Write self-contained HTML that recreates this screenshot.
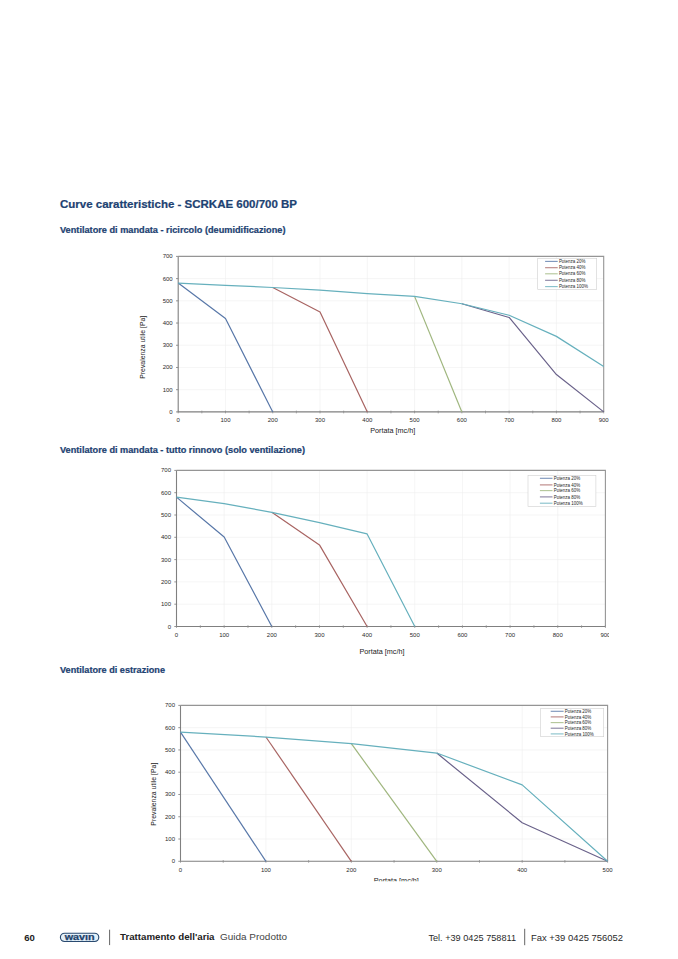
<!DOCTYPE html>
<html><head><meta charset="utf-8"><style>
html,body{margin:0;padding:0;background:#fff;}
svg{display:block;font-family:"Liberation Sans", sans-serif;}
</style></head><body>
<svg width="678" height="959" viewBox="0 0 678 959">
<defs><clipPath id="c2"><rect x="0" y="0" width="609" height="959"/></clipPath><clipPath id="c3"><rect x="0" y="0" width="678" height="881.2"/></clipPath></defs>
<rect width="678" height="959" fill="#fff"/>
<text x="60" y="208.3" font-size="11" font-weight="bold" fill="#1d4272" stroke="#1d4272" stroke-width="0.22" textLength="237" lengthAdjust="spacingAndGlyphs">Curve caratteristiche - SCRKAE 600/700 BP</text>
<text x="60" y="233" font-size="9" font-weight="bold" fill="#1d4272" stroke="#1d4272" stroke-width="0.22" textLength="225.5" lengthAdjust="spacingAndGlyphs">Ventilatore di mandata - ricircolo (deumidificazione)</text>
<text x="60" y="452.7" font-size="9" font-weight="bold" fill="#1d4272" stroke="#1d4272" stroke-width="0.22" textLength="245" lengthAdjust="spacingAndGlyphs">Ventilatore di mandata - tutto rinnovo (solo ventilazione)</text>
<text x="60" y="672.5" font-size="9" font-weight="bold" fill="#1d4272" stroke="#1d4272" stroke-width="0.22" textLength="105" lengthAdjust="spacingAndGlyphs">Ventilatore di estrazione</text>
<line x1="178.20" y1="389.69" x2="603.70" y2="389.69" stroke="#eeeeee" stroke-width="0.6"/>
<line x1="178.20" y1="367.47" x2="603.70" y2="367.47" stroke="#eeeeee" stroke-width="0.6"/>
<line x1="178.20" y1="345.26" x2="603.70" y2="345.26" stroke="#eeeeee" stroke-width="0.6"/>
<line x1="178.20" y1="323.04" x2="603.70" y2="323.04" stroke="#eeeeee" stroke-width="0.6"/>
<line x1="178.20" y1="300.83" x2="603.70" y2="300.83" stroke="#eeeeee" stroke-width="0.6"/>
<line x1="178.20" y1="278.61" x2="603.70" y2="278.61" stroke="#eeeeee" stroke-width="0.6"/>
<line x1="225.48" y1="256.40" x2="225.48" y2="411.90" stroke="#eeeeee" stroke-width="0.6"/>
<line x1="272.76" y1="256.40" x2="272.76" y2="411.90" stroke="#eeeeee" stroke-width="0.6"/>
<line x1="320.03" y1="256.40" x2="320.03" y2="411.90" stroke="#eeeeee" stroke-width="0.6"/>
<line x1="367.31" y1="256.40" x2="367.31" y2="411.90" stroke="#eeeeee" stroke-width="0.6"/>
<line x1="414.59" y1="256.40" x2="414.59" y2="411.90" stroke="#eeeeee" stroke-width="0.6"/>
<line x1="461.87" y1="256.40" x2="461.87" y2="411.90" stroke="#eeeeee" stroke-width="0.6"/>
<line x1="509.14" y1="256.40" x2="509.14" y2="411.90" stroke="#eeeeee" stroke-width="0.6"/>
<line x1="556.42" y1="256.40" x2="556.42" y2="411.90" stroke="#eeeeee" stroke-width="0.6"/>
<path d="M178.20 256.40 H603.70 V411.90" fill="none" stroke="#959595" stroke-width="1.1"/>
<path d="M178.20 256.40 V411.90 H603.70" fill="none" stroke="#808080" stroke-width="1.1"/>
<line x1="176.00" y1="411.90" x2="178.20" y2="411.90" stroke="#7a7a7a" stroke-width="0.8"/>
<line x1="176.00" y1="389.69" x2="178.20" y2="389.69" stroke="#7a7a7a" stroke-width="0.8"/>
<line x1="176.00" y1="367.47" x2="178.20" y2="367.47" stroke="#7a7a7a" stroke-width="0.8"/>
<line x1="176.00" y1="345.26" x2="178.20" y2="345.26" stroke="#7a7a7a" stroke-width="0.8"/>
<line x1="176.00" y1="323.04" x2="178.20" y2="323.04" stroke="#7a7a7a" stroke-width="0.8"/>
<line x1="176.00" y1="300.83" x2="178.20" y2="300.83" stroke="#7a7a7a" stroke-width="0.8"/>
<line x1="176.00" y1="278.61" x2="178.20" y2="278.61" stroke="#7a7a7a" stroke-width="0.8"/>
<line x1="176.00" y1="256.40" x2="178.20" y2="256.40" stroke="#7a7a7a" stroke-width="0.8"/>
<line x1="178.20" y1="410.60" x2="178.20" y2="413.40" stroke="#8a8a8a" stroke-width="0.7"/>
<line x1="201.84" y1="410.60" x2="201.84" y2="413.40" stroke="#8a8a8a" stroke-width="0.7"/>
<line x1="225.48" y1="410.60" x2="225.48" y2="413.40" stroke="#8a8a8a" stroke-width="0.7"/>
<line x1="249.12" y1="410.60" x2="249.12" y2="413.40" stroke="#8a8a8a" stroke-width="0.7"/>
<line x1="272.76" y1="410.60" x2="272.76" y2="413.40" stroke="#8a8a8a" stroke-width="0.7"/>
<line x1="296.39" y1="410.60" x2="296.39" y2="413.40" stroke="#8a8a8a" stroke-width="0.7"/>
<line x1="320.03" y1="410.60" x2="320.03" y2="413.40" stroke="#8a8a8a" stroke-width="0.7"/>
<line x1="343.67" y1="410.60" x2="343.67" y2="413.40" stroke="#8a8a8a" stroke-width="0.7"/>
<line x1="367.31" y1="410.60" x2="367.31" y2="413.40" stroke="#8a8a8a" stroke-width="0.7"/>
<line x1="390.95" y1="410.60" x2="390.95" y2="413.40" stroke="#8a8a8a" stroke-width="0.7"/>
<line x1="414.59" y1="410.60" x2="414.59" y2="413.40" stroke="#8a8a8a" stroke-width="0.7"/>
<line x1="438.23" y1="410.60" x2="438.23" y2="413.40" stroke="#8a8a8a" stroke-width="0.7"/>
<line x1="461.87" y1="410.60" x2="461.87" y2="413.40" stroke="#8a8a8a" stroke-width="0.7"/>
<line x1="485.51" y1="410.60" x2="485.51" y2="413.40" stroke="#8a8a8a" stroke-width="0.7"/>
<line x1="509.14" y1="410.60" x2="509.14" y2="413.40" stroke="#8a8a8a" stroke-width="0.7"/>
<line x1="532.78" y1="410.60" x2="532.78" y2="413.40" stroke="#8a8a8a" stroke-width="0.7"/>
<line x1="556.42" y1="410.60" x2="556.42" y2="413.40" stroke="#8a8a8a" stroke-width="0.7"/>
<line x1="580.06" y1="410.60" x2="580.06" y2="413.40" stroke="#8a8a8a" stroke-width="0.7"/>
<line x1="603.70" y1="410.60" x2="603.70" y2="413.40" stroke="#8a8a8a" stroke-width="0.7"/>
<polyline points="178.20,283.06 225.48,318.60 272.76,411.90" fill="none" stroke="#5877a8" stroke-width="1.2" stroke-linejoin="round"/>
<polyline points="272.76,287.50 320.03,311.94 367.31,411.90" fill="none" stroke="#a86462" stroke-width="1.2" stroke-linejoin="round"/>
<polyline points="414.59,296.39 461.87,411.90" fill="none" stroke="#9fb67e" stroke-width="1.2" stroke-linejoin="round"/>
<polyline points="461.87,303.72 509.14,317.49 556.42,374.58 603.70,411.90" fill="none" stroke="#6a628a" stroke-width="1.2" stroke-linejoin="round"/>
<polyline points="178.20,283.06 225.48,285.28 272.76,287.50 320.03,290.17 367.31,293.72 414.59,296.39 461.87,303.72 509.14,315.27 556.42,336.37 603.70,366.58" fill="none" stroke="#66b0bd" stroke-width="1.2" stroke-linejoin="round"/>
<text x="172.70" y="413.90" text-anchor="end" font-size="6" fill="#2a2a2a">0</text>
<text x="172.70" y="391.69" text-anchor="end" font-size="6" fill="#2a2a2a">100</text>
<text x="172.70" y="369.47" text-anchor="end" font-size="6" fill="#2a2a2a">200</text>
<text x="172.70" y="347.26" text-anchor="end" font-size="6" fill="#2a2a2a">300</text>
<text x="172.70" y="325.04" text-anchor="end" font-size="6" fill="#2a2a2a">400</text>
<text x="172.70" y="302.83" text-anchor="end" font-size="6" fill="#2a2a2a">500</text>
<text x="172.70" y="280.61" text-anchor="end" font-size="6" fill="#2a2a2a">600</text>
<text x="172.70" y="258.40" text-anchor="end" font-size="6" fill="#2a2a2a">700</text>
<text x="178.20" y="422.00" text-anchor="middle" font-size="6" fill="#2a2a2a">0</text>
<text x="225.48" y="422.00" text-anchor="middle" font-size="6" fill="#2a2a2a">100</text>
<text x="272.76" y="422.00" text-anchor="middle" font-size="6" fill="#2a2a2a">200</text>
<text x="320.03" y="422.00" text-anchor="middle" font-size="6" fill="#2a2a2a">300</text>
<text x="367.31" y="422.00" text-anchor="middle" font-size="6" fill="#2a2a2a">400</text>
<text x="414.59" y="422.00" text-anchor="middle" font-size="6" fill="#2a2a2a">500</text>
<text x="461.87" y="422.00" text-anchor="middle" font-size="6" fill="#2a2a2a">600</text>
<text x="509.14" y="422.00" text-anchor="middle" font-size="6" fill="#2a2a2a">700</text>
<text x="556.42" y="422.00" text-anchor="middle" font-size="6" fill="#2a2a2a">800</text>
<text x="603.70" y="422.00" text-anchor="middle" font-size="6" fill="#2a2a2a">900</text>
<text x="392.70" y="432.60" text-anchor="middle" font-size="7.2" fill="#222" textLength="45" lengthAdjust="spacingAndGlyphs">Portata [mc/h]</text>
<text transform="translate(144.70,347.30) rotate(-90)" text-anchor="middle" font-size="7.2" fill="#222" textLength="63" lengthAdjust="spacingAndGlyphs">Prevalenza utile [Pa]</text>
<rect x="537.70" y="258.50" width="59.00" height="31.00" fill="#fff" stroke="#cfcfcf" stroke-width="0.6"/>
<line x1="545.10" y1="261.40" x2="557.70" y2="261.40" stroke="#5877a8" stroke-width="1.1" stroke-opacity="0.8"/>
<text x="558.90" y="263.00" font-size="4.5" fill="#1e1e1e" textLength="26.5" lengthAdjust="spacingAndGlyphs">Potenza 20%</text>
<line x1="545.10" y1="267.70" x2="557.70" y2="267.70" stroke="#a86462" stroke-width="1.1" stroke-opacity="0.8"/>
<text x="558.90" y="269.30" font-size="4.5" fill="#1e1e1e" textLength="26.5" lengthAdjust="spacingAndGlyphs">Potenza 40%</text>
<line x1="545.10" y1="273.80" x2="557.70" y2="273.80" stroke="#9fb67e" stroke-width="1.1" stroke-opacity="0.8"/>
<text x="558.90" y="275.40" font-size="4.5" fill="#1e1e1e" textLength="26.5" lengthAdjust="spacingAndGlyphs">Potenza 60%</text>
<line x1="545.10" y1="280.30" x2="557.70" y2="280.30" stroke="#6a628a" stroke-width="1.1" stroke-opacity="0.8"/>
<text x="558.90" y="281.90" font-size="4.5" fill="#1e1e1e" textLength="26.5" lengthAdjust="spacingAndGlyphs">Potenza 80%</text>
<line x1="545.10" y1="286.60" x2="557.70" y2="286.60" stroke="#66b0bd" stroke-width="1.1" stroke-opacity="0.8"/>
<text x="558.90" y="288.20" font-size="4.5" fill="#1e1e1e" textLength="29" lengthAdjust="spacingAndGlyphs">Potenza 100%</text>
<g clip-path="url(#c2)">
<line x1="176.50" y1="604.20" x2="605.40" y2="604.20" stroke="#eeeeee" stroke-width="0.6"/>
<line x1="176.50" y1="581.90" x2="605.40" y2="581.90" stroke="#eeeeee" stroke-width="0.6"/>
<line x1="176.50" y1="559.60" x2="605.40" y2="559.60" stroke="#eeeeee" stroke-width="0.6"/>
<line x1="176.50" y1="537.30" x2="605.40" y2="537.30" stroke="#eeeeee" stroke-width="0.6"/>
<line x1="176.50" y1="515.00" x2="605.40" y2="515.00" stroke="#eeeeee" stroke-width="0.6"/>
<line x1="176.50" y1="492.70" x2="605.40" y2="492.70" stroke="#eeeeee" stroke-width="0.6"/>
<line x1="224.16" y1="470.40" x2="224.16" y2="626.50" stroke="#eeeeee" stroke-width="0.6"/>
<line x1="271.81" y1="470.40" x2="271.81" y2="626.50" stroke="#eeeeee" stroke-width="0.6"/>
<line x1="319.47" y1="470.40" x2="319.47" y2="626.50" stroke="#eeeeee" stroke-width="0.6"/>
<line x1="367.12" y1="470.40" x2="367.12" y2="626.50" stroke="#eeeeee" stroke-width="0.6"/>
<line x1="414.78" y1="470.40" x2="414.78" y2="626.50" stroke="#eeeeee" stroke-width="0.6"/>
<line x1="462.43" y1="470.40" x2="462.43" y2="626.50" stroke="#eeeeee" stroke-width="0.6"/>
<line x1="510.09" y1="470.40" x2="510.09" y2="626.50" stroke="#eeeeee" stroke-width="0.6"/>
<line x1="557.74" y1="470.40" x2="557.74" y2="626.50" stroke="#eeeeee" stroke-width="0.6"/>
<path d="M176.50 470.40 H605.40 V626.50" fill="none" stroke="#959595" stroke-width="1.1"/>
<path d="M176.50 470.40 V626.50 H605.40" fill="none" stroke="#808080" stroke-width="1.1"/>
<line x1="174.30" y1="626.50" x2="176.50" y2="626.50" stroke="#7a7a7a" stroke-width="0.8"/>
<line x1="174.30" y1="604.20" x2="176.50" y2="604.20" stroke="#7a7a7a" stroke-width="0.8"/>
<line x1="174.30" y1="581.90" x2="176.50" y2="581.90" stroke="#7a7a7a" stroke-width="0.8"/>
<line x1="174.30" y1="559.60" x2="176.50" y2="559.60" stroke="#7a7a7a" stroke-width="0.8"/>
<line x1="174.30" y1="537.30" x2="176.50" y2="537.30" stroke="#7a7a7a" stroke-width="0.8"/>
<line x1="174.30" y1="515.00" x2="176.50" y2="515.00" stroke="#7a7a7a" stroke-width="0.8"/>
<line x1="174.30" y1="492.70" x2="176.50" y2="492.70" stroke="#7a7a7a" stroke-width="0.8"/>
<line x1="174.30" y1="470.40" x2="176.50" y2="470.40" stroke="#7a7a7a" stroke-width="0.8"/>
<line x1="176.50" y1="625.20" x2="176.50" y2="628.00" stroke="#8a8a8a" stroke-width="0.7"/>
<line x1="200.33" y1="625.20" x2="200.33" y2="628.00" stroke="#8a8a8a" stroke-width="0.7"/>
<line x1="224.16" y1="625.20" x2="224.16" y2="628.00" stroke="#8a8a8a" stroke-width="0.7"/>
<line x1="247.98" y1="625.20" x2="247.98" y2="628.00" stroke="#8a8a8a" stroke-width="0.7"/>
<line x1="271.81" y1="625.20" x2="271.81" y2="628.00" stroke="#8a8a8a" stroke-width="0.7"/>
<line x1="295.64" y1="625.20" x2="295.64" y2="628.00" stroke="#8a8a8a" stroke-width="0.7"/>
<line x1="319.47" y1="625.20" x2="319.47" y2="628.00" stroke="#8a8a8a" stroke-width="0.7"/>
<line x1="343.29" y1="625.20" x2="343.29" y2="628.00" stroke="#8a8a8a" stroke-width="0.7"/>
<line x1="367.12" y1="625.20" x2="367.12" y2="628.00" stroke="#8a8a8a" stroke-width="0.7"/>
<line x1="390.95" y1="625.20" x2="390.95" y2="628.00" stroke="#8a8a8a" stroke-width="0.7"/>
<line x1="414.78" y1="625.20" x2="414.78" y2="628.00" stroke="#8a8a8a" stroke-width="0.7"/>
<line x1="438.61" y1="625.20" x2="438.61" y2="628.00" stroke="#8a8a8a" stroke-width="0.7"/>
<line x1="462.43" y1="625.20" x2="462.43" y2="628.00" stroke="#8a8a8a" stroke-width="0.7"/>
<line x1="486.26" y1="625.20" x2="486.26" y2="628.00" stroke="#8a8a8a" stroke-width="0.7"/>
<line x1="510.09" y1="625.20" x2="510.09" y2="628.00" stroke="#8a8a8a" stroke-width="0.7"/>
<line x1="533.92" y1="625.20" x2="533.92" y2="628.00" stroke="#8a8a8a" stroke-width="0.7"/>
<line x1="557.74" y1="625.20" x2="557.74" y2="628.00" stroke="#8a8a8a" stroke-width="0.7"/>
<line x1="581.57" y1="625.20" x2="581.57" y2="628.00" stroke="#8a8a8a" stroke-width="0.7"/>
<line x1="605.40" y1="625.20" x2="605.40" y2="628.00" stroke="#8a8a8a" stroke-width="0.7"/>
<polyline points="176.50,497.16 224.16,537.08 271.81,626.50" fill="none" stroke="#5877a8" stroke-width="1.2" stroke-linejoin="round"/>
<polyline points="271.81,512.32 319.47,544.88 367.12,626.50" fill="none" stroke="#a86462" stroke-width="1.2" stroke-linejoin="round"/>
<polyline points="176.50,497.16 224.16,503.63 271.81,512.32 319.47,522.58 367.12,533.95 414.78,626.50" fill="none" stroke="#66b0bd" stroke-width="1.2" stroke-linejoin="round"/>
<text x="171.00" y="628.50" text-anchor="end" font-size="6" fill="#2a2a2a">0</text>
<text x="171.00" y="606.20" text-anchor="end" font-size="6" fill="#2a2a2a">100</text>
<text x="171.00" y="583.90" text-anchor="end" font-size="6" fill="#2a2a2a">200</text>
<text x="171.00" y="561.60" text-anchor="end" font-size="6" fill="#2a2a2a">300</text>
<text x="171.00" y="539.30" text-anchor="end" font-size="6" fill="#2a2a2a">400</text>
<text x="171.00" y="517.00" text-anchor="end" font-size="6" fill="#2a2a2a">500</text>
<text x="171.00" y="494.70" text-anchor="end" font-size="6" fill="#2a2a2a">600</text>
<text x="171.00" y="472.40" text-anchor="end" font-size="6" fill="#2a2a2a">700</text>
<text x="176.50" y="637.20" text-anchor="middle" font-size="6" fill="#2a2a2a">0</text>
<text x="224.16" y="637.20" text-anchor="middle" font-size="6" fill="#2a2a2a">100</text>
<text x="271.81" y="637.20" text-anchor="middle" font-size="6" fill="#2a2a2a">200</text>
<text x="319.47" y="637.20" text-anchor="middle" font-size="6" fill="#2a2a2a">300</text>
<text x="367.12" y="637.20" text-anchor="middle" font-size="6" fill="#2a2a2a">400</text>
<text x="414.78" y="637.20" text-anchor="middle" font-size="6" fill="#2a2a2a">500</text>
<text x="462.43" y="637.20" text-anchor="middle" font-size="6" fill="#2a2a2a">600</text>
<text x="510.09" y="637.20" text-anchor="middle" font-size="6" fill="#2a2a2a">700</text>
<text x="557.74" y="637.20" text-anchor="middle" font-size="6" fill="#2a2a2a">800</text>
<text x="605.40" y="637.20" text-anchor="middle" font-size="6" fill="#2a2a2a">900</text>
<text x="382.00" y="654.00" text-anchor="middle" font-size="7.2" fill="#222" textLength="45" lengthAdjust="spacingAndGlyphs">Portata [mc/h]</text>
<rect x="528.00" y="475.60" width="67.90" height="30.80" fill="#fff" stroke="#cfcfcf" stroke-width="0.6"/>
<line x1="539.90" y1="478.30" x2="552.50" y2="478.30" stroke="#5877a8" stroke-width="1.1" stroke-opacity="0.8"/>
<text x="553.70" y="479.90" font-size="4.5" fill="#1e1e1e" textLength="26.5" lengthAdjust="spacingAndGlyphs">Potenza 20%</text>
<line x1="539.90" y1="484.90" x2="552.50" y2="484.90" stroke="#a86462" stroke-width="1.1" stroke-opacity="0.8"/>
<text x="553.70" y="486.50" font-size="4.5" fill="#1e1e1e" textLength="26.5" lengthAdjust="spacingAndGlyphs">Potenza 40%</text>
<line x1="539.90" y1="490.60" x2="552.50" y2="490.60" stroke="#9fb67e" stroke-width="1.1" stroke-opacity="0.8"/>
<text x="553.70" y="492.20" font-size="4.5" fill="#1e1e1e" textLength="26.5" lengthAdjust="spacingAndGlyphs">Potenza 60%</text>
<line x1="539.90" y1="496.90" x2="552.50" y2="496.90" stroke="#6a628a" stroke-width="1.1" stroke-opacity="0.8"/>
<text x="553.70" y="498.50" font-size="4.5" fill="#1e1e1e" textLength="26.5" lengthAdjust="spacingAndGlyphs">Potenza 80%</text>
<line x1="539.90" y1="503.20" x2="552.50" y2="503.20" stroke="#66b0bd" stroke-width="1.1" stroke-opacity="0.8"/>
<text x="553.70" y="504.80" font-size="4.5" fill="#1e1e1e" textLength="29" lengthAdjust="spacingAndGlyphs">Potenza 100%</text>
</g>
<g clip-path="url(#c3)">
<line x1="180.50" y1="839.03" x2="607.60" y2="839.03" stroke="#eeeeee" stroke-width="0.6"/>
<line x1="180.50" y1="816.76" x2="607.60" y2="816.76" stroke="#eeeeee" stroke-width="0.6"/>
<line x1="180.50" y1="794.49" x2="607.60" y2="794.49" stroke="#eeeeee" stroke-width="0.6"/>
<line x1="180.50" y1="772.21" x2="607.60" y2="772.21" stroke="#eeeeee" stroke-width="0.6"/>
<line x1="180.50" y1="749.94" x2="607.60" y2="749.94" stroke="#eeeeee" stroke-width="0.6"/>
<line x1="180.50" y1="727.67" x2="607.60" y2="727.67" stroke="#eeeeee" stroke-width="0.6"/>
<line x1="265.92" y1="705.40" x2="265.92" y2="861.30" stroke="#eeeeee" stroke-width="0.6"/>
<line x1="351.34" y1="705.40" x2="351.34" y2="861.30" stroke="#eeeeee" stroke-width="0.6"/>
<line x1="436.76" y1="705.40" x2="436.76" y2="861.30" stroke="#eeeeee" stroke-width="0.6"/>
<line x1="522.18" y1="705.40" x2="522.18" y2="861.30" stroke="#eeeeee" stroke-width="0.6"/>
<path d="M180.50 705.40 H607.60 V861.30" fill="none" stroke="#959595" stroke-width="1.1"/>
<path d="M180.50 705.40 V861.30 H607.60" fill="none" stroke="#808080" stroke-width="1.1"/>
<line x1="178.30" y1="861.30" x2="180.50" y2="861.30" stroke="#7a7a7a" stroke-width="0.8"/>
<line x1="178.30" y1="839.03" x2="180.50" y2="839.03" stroke="#7a7a7a" stroke-width="0.8"/>
<line x1="178.30" y1="816.76" x2="180.50" y2="816.76" stroke="#7a7a7a" stroke-width="0.8"/>
<line x1="178.30" y1="794.49" x2="180.50" y2="794.49" stroke="#7a7a7a" stroke-width="0.8"/>
<line x1="178.30" y1="772.21" x2="180.50" y2="772.21" stroke="#7a7a7a" stroke-width="0.8"/>
<line x1="178.30" y1="749.94" x2="180.50" y2="749.94" stroke="#7a7a7a" stroke-width="0.8"/>
<line x1="178.30" y1="727.67" x2="180.50" y2="727.67" stroke="#7a7a7a" stroke-width="0.8"/>
<line x1="178.30" y1="705.40" x2="180.50" y2="705.40" stroke="#7a7a7a" stroke-width="0.8"/>
<line x1="180.50" y1="860.00" x2="180.50" y2="862.80" stroke="#8a8a8a" stroke-width="0.7"/>
<line x1="223.21" y1="860.00" x2="223.21" y2="862.80" stroke="#8a8a8a" stroke-width="0.7"/>
<line x1="265.92" y1="860.00" x2="265.92" y2="862.80" stroke="#8a8a8a" stroke-width="0.7"/>
<line x1="308.63" y1="860.00" x2="308.63" y2="862.80" stroke="#8a8a8a" stroke-width="0.7"/>
<line x1="351.34" y1="860.00" x2="351.34" y2="862.80" stroke="#8a8a8a" stroke-width="0.7"/>
<line x1="394.05" y1="860.00" x2="394.05" y2="862.80" stroke="#8a8a8a" stroke-width="0.7"/>
<line x1="436.76" y1="860.00" x2="436.76" y2="862.80" stroke="#8a8a8a" stroke-width="0.7"/>
<line x1="479.47" y1="860.00" x2="479.47" y2="862.80" stroke="#8a8a8a" stroke-width="0.7"/>
<line x1="522.18" y1="860.00" x2="522.18" y2="862.80" stroke="#8a8a8a" stroke-width="0.7"/>
<line x1="564.89" y1="860.00" x2="564.89" y2="862.80" stroke="#8a8a8a" stroke-width="0.7"/>
<line x1="607.60" y1="860.00" x2="607.60" y2="862.80" stroke="#8a8a8a" stroke-width="0.7"/>
<polyline points="180.50,732.13 265.92,861.30" fill="none" stroke="#5877a8" stroke-width="1.2" stroke-linejoin="round"/>
<polyline points="265.92,737.03 351.34,861.30" fill="none" stroke="#a86462" stroke-width="1.2" stroke-linejoin="round"/>
<polyline points="351.34,743.71 436.76,861.30" fill="none" stroke="#9fb67e" stroke-width="1.2" stroke-linejoin="round"/>
<polyline points="436.76,753.06 522.18,822.77 607.60,861.30" fill="none" stroke="#6a628a" stroke-width="1.2" stroke-linejoin="round"/>
<polyline points="180.50,732.13 265.92,737.03 351.34,743.71 436.76,753.06 522.18,784.91 607.60,861.30" fill="none" stroke="#66b0bd" stroke-width="1.2" stroke-linejoin="round"/>
<text x="175.00" y="863.30" text-anchor="end" font-size="6" fill="#2a2a2a">0</text>
<text x="175.00" y="841.03" text-anchor="end" font-size="6" fill="#2a2a2a">100</text>
<text x="175.00" y="818.76" text-anchor="end" font-size="6" fill="#2a2a2a">200</text>
<text x="175.00" y="796.49" text-anchor="end" font-size="6" fill="#2a2a2a">300</text>
<text x="175.00" y="774.21" text-anchor="end" font-size="6" fill="#2a2a2a">400</text>
<text x="175.00" y="751.94" text-anchor="end" font-size="6" fill="#2a2a2a">500</text>
<text x="175.00" y="729.67" text-anchor="end" font-size="6" fill="#2a2a2a">600</text>
<text x="175.00" y="707.40" text-anchor="end" font-size="6" fill="#2a2a2a">700</text>
<text x="180.50" y="872.00" text-anchor="middle" font-size="6" fill="#2a2a2a">0</text>
<text x="265.92" y="872.00" text-anchor="middle" font-size="6" fill="#2a2a2a">100</text>
<text x="351.34" y="872.00" text-anchor="middle" font-size="6" fill="#2a2a2a">200</text>
<text x="436.76" y="872.00" text-anchor="middle" font-size="6" fill="#2a2a2a">300</text>
<text x="522.18" y="872.00" text-anchor="middle" font-size="6" fill="#2a2a2a">400</text>
<text x="607.60" y="872.00" text-anchor="middle" font-size="6" fill="#2a2a2a">500</text>
<text x="396.30" y="883.40" text-anchor="middle" font-size="7.2" fill="#222" textLength="45" lengthAdjust="spacingAndGlyphs">Portata [mc/h]</text>
<text transform="translate(155.70,794.20) rotate(-90)" text-anchor="middle" font-size="7.2" fill="#222" textLength="63" lengthAdjust="spacingAndGlyphs">Prevalenza utile [Pa]</text>
<rect x="540.70" y="708.50" width="63.00" height="28.20" fill="#fff" stroke="#cfcfcf" stroke-width="0.6"/>
<line x1="550.70" y1="711.30" x2="563.60" y2="711.30" stroke="#5877a8" stroke-width="1.1" stroke-opacity="0.8"/>
<text x="564.80" y="712.90" font-size="4.5" fill="#1e1e1e" textLength="26.5" lengthAdjust="spacingAndGlyphs">Potenza 20%</text>
<line x1="550.70" y1="716.90" x2="563.60" y2="716.90" stroke="#a86462" stroke-width="1.1" stroke-opacity="0.8"/>
<text x="564.80" y="718.50" font-size="4.5" fill="#1e1e1e" textLength="26.5" lengthAdjust="spacingAndGlyphs">Potenza 40%</text>
<line x1="550.70" y1="722.60" x2="563.60" y2="722.60" stroke="#9fb67e" stroke-width="1.1" stroke-opacity="0.8"/>
<text x="564.80" y="724.20" font-size="4.5" fill="#1e1e1e" textLength="26.5" lengthAdjust="spacingAndGlyphs">Potenza 60%</text>
<line x1="550.70" y1="728.20" x2="563.60" y2="728.20" stroke="#6a628a" stroke-width="1.1" stroke-opacity="0.8"/>
<text x="564.80" y="729.80" font-size="4.5" fill="#1e1e1e" textLength="26.5" lengthAdjust="spacingAndGlyphs">Potenza 80%</text>
<line x1="550.70" y1="733.90" x2="563.60" y2="733.90" stroke="#66b0bd" stroke-width="1.1" stroke-opacity="0.8"/>
<text x="564.80" y="735.50" font-size="4.5" fill="#1e1e1e" textLength="29" lengthAdjust="spacingAndGlyphs">Potenza 100%</text>
</g>
<text x="24.2" y="941" font-size="9.6" font-weight="bold" fill="#222" textLength="10.6" lengthAdjust="spacingAndGlyphs">60</text>
<rect x="60.4" y="933.2" width="38.4" height="8.3" rx="4.15" fill="#e3f0f9" stroke="#2a4a70" stroke-width="1.15"/>
<text x="79.7" y="939.8" text-anchor="middle" font-size="8.9" font-weight="bold" fill="#22426a" stroke="#22426a" stroke-width="0.25" textLength="30" lengthAdjust="spacingAndGlyphs">wavın</text>
<line x1="109.6" y1="929.7" x2="109.6" y2="945.1" stroke="#555" stroke-width="0.9"/>
<text x="120" y="940.2" font-size="9.3" font-weight="bold" fill="#222" textLength="94.5" lengthAdjust="spacingAndGlyphs">Trattamento dell'aria</text>
<text x="220" y="940.2" font-size="9.3" font-weight="normal" fill="#444" textLength="67" lengthAdjust="spacingAndGlyphs">Guida Prodotto</text>
<text x="428.4" y="941.3" font-size="9.9" font-weight="normal" fill="#2a2a2a" textLength="87.6" lengthAdjust="spacingAndGlyphs">Tel. +39 0425 758811</text>
<line x1="524.7" y1="928.8" x2="524.7" y2="945.2" stroke="#555" stroke-width="0.9"/>
<text x="531" y="941.3" font-size="9.9" font-weight="normal" fill="#2a2a2a" textLength="92" lengthAdjust="spacingAndGlyphs">Fax +39 0425 756052</text>
</svg>
</body></html>
